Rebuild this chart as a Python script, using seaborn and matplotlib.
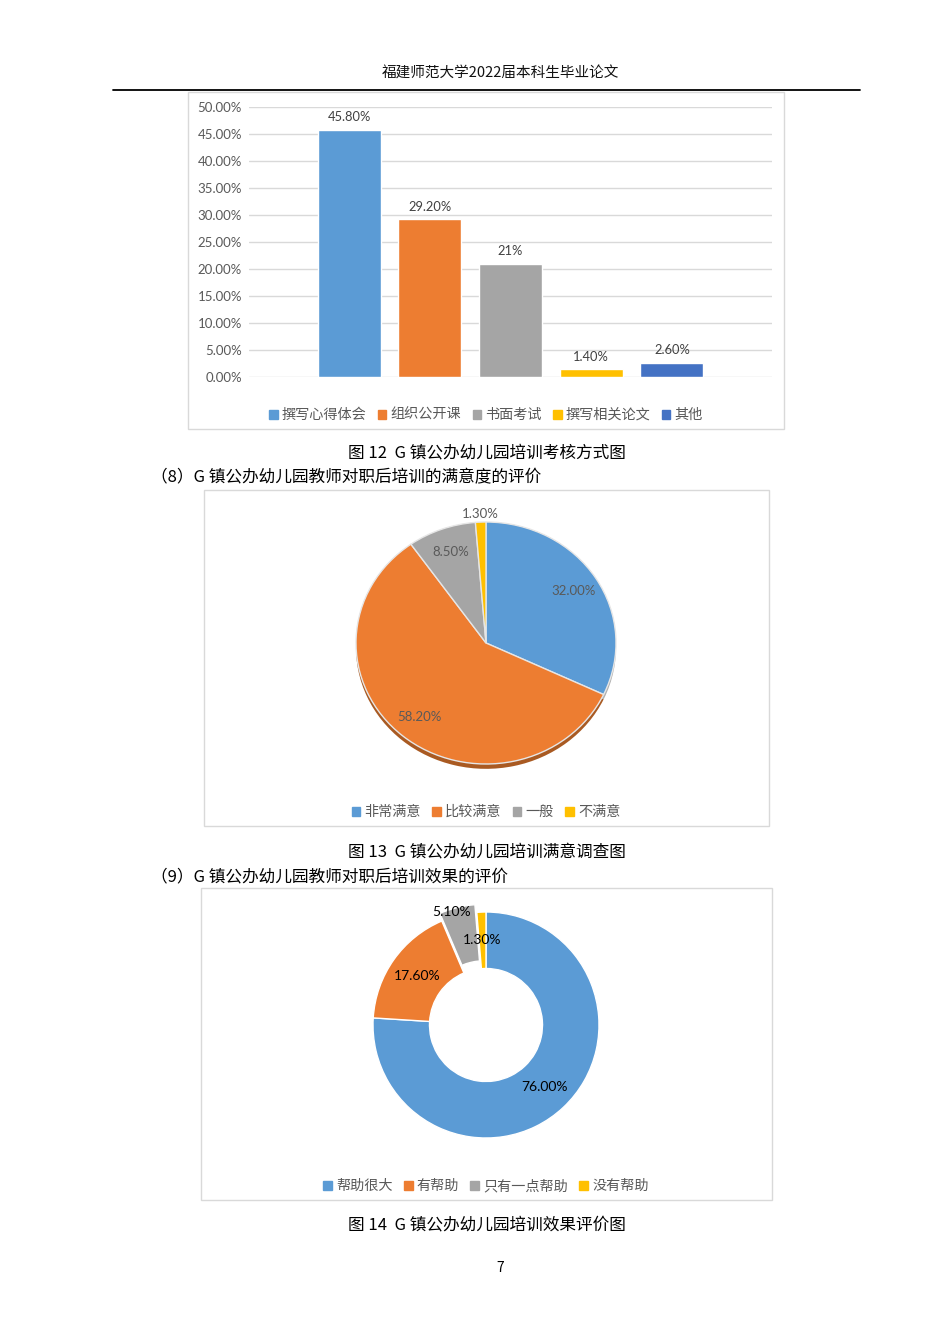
import matplotlib
matplotlib.use("Agg")
import matplotlib.pyplot as plt
import matplotlib.patches as mpatches
import seaborn as sns
import numpy as np
import pandas as pd

# ---------------- data ----------------
header_text = "福建师范大学2022届本科生毕业论文"

bar_categories = ["撰写心得体会", "组织公开课", "书面考试", "撰写相关论文", "其他"]
bar_values = [0.458, 0.292, 0.21, 0.014, 0.026]
bar_labels = ["45.80%", "29.20%", "21%", "1.40%", "2.60%"]
bar_colors = ["#5B9BD5", "#ED7D31", "#A5A5A5", "#FFC000", "#4472C4"]
bar_yticks = [0.0, 0.05, 0.10, 0.15, 0.20, 0.25, 0.30, 0.35, 0.40, 0.45, 0.50]

pie_categories = ["非常满意", "比较满意", "一般", "不满意"]
pie_values = [32.0, 58.2, 8.5, 1.3]
pie_labels = ["32.00%", "58.20%", "8.50%", "1.30%"]
pie_colors = ["#5B9BD5", "#ED7D31", "#A5A5A5", "#FFC000"]

donut_categories = ["帮助很大", "有帮助", "只有一点帮助", "没有帮助"]
donut_values = [76.0, 17.6, 5.1, 1.3]
donut_labels = ["76.00%", "17.60%", "5.10%", "1.30%"]
donut_colors = ["#5B9BD5", "#ED7D31", "#A5A5A5", "#FFC000"]

caption1 = "图 12  G 镇公办幼儿园培训考核方式图"
section8 = "（8）G 镇公办幼儿园教师对职后培训的满意度的评价"
caption2 = "图 13  G 镇公办幼儿园培训满意调查图"
section9 = "（9）G 镇公办幼儿园教师对职后培训效果的评价"
caption3 = "图 14  G 镇公办幼儿园培训效果评价图"
page_number = "7"

# ---------------- setup ----------------
sns.set_theme(style="white")
CJK = ["Noto Sans CJK SC", "DejaVu Sans"]
NUM = ["Lato", "Noto Sans CJK SC", "DejaVu Sans"]
plt.rcParams["font.family"] = NUM

W, H = 950, 1344
fig = plt.figure(figsize=(W / 100, H / 100), dpi=100)
fig.patch.set_facecolor("white")


def fx(px):
    return px / W


def fy(py):
    return 1 - py / H


def rect_px(x0, y0, x1, y1):
    return [fx(x0), fy(y1), (x1 - x0) / W, (y1 - y0) / H]


def box(x0, y0, x1, y1):
    r = mpatches.Rectangle((fx(x0), fy(y1)), (x1 - x0) / W, (y1 - y0) / H,
                           transform=fig.transFigure, fill=False,
                           edgecolor="#D9D9D9", linewidth=1.0)
    fig.add_artist(r)


def legend_at(handles, labels, y, ncol):
    fig.legend(handles, labels, loc="center",
               bbox_to_anchor=(fx(486), fy(y)), ncol=ncol, frameon=False,
               prop={"family": CJK, "size": 10.2}, labelcolor="#595959",
               handlelength=0.6, handleheight=0.6, handletextpad=0.3,
               columnspacing=0.8, borderpad=0)


# ---------------- page texts ----------------
fig.text(fx(500), fy(74), header_text, ha="center", va="center",
         fontsize=10.5, family=CJK, color="#111111")
fig.add_artist(plt.Line2D([fx(113), fx(860)], [fy(90), fy(90)],
                          transform=fig.transFigure, color="black", lw=1.3))

# ---------------- chart 1: bar ----------------
box(188, 92, 784, 429)
ax1 = fig.add_axes(rect_px(249, 107, 772, 377))
df_bar = pd.DataFrame({"cat": bar_categories, "val": bar_values})
sns.barplot(data=df_bar, x="cat", y="val", hue="cat", palette=bar_colors,
            dodge=False, width=0.78, legend=False, ax=ax1, zorder=3,
            saturation=1)
ax1.set_ylim(0, 0.5)
ax1.set_xlim(-1.24, 4 + 1.24)
ax1.set_yticks(bar_yticks)
ax1.set_yticklabels([f"{t*100:.2f}%" for t in bar_yticks])
ax1.tick_params(axis="y", labelsize=9.5, colors="#595959", length=0, pad=5)
ax1.set_xticks([])
ax1.set_xlabel("")
ax1.set_ylabel("")
ax1.grid(axis="y", color="#D9D9D9", linewidth=1.0, zorder=0)
for s in ax1.spines.values():
    s.set_visible(False)
# label bars by matching heights
for p in ax1.patches:
    h = p.get_height()
    if h <= 0:
        continue
    i = int(np.argmin([abs(h - v) for v in bar_values]))
    ax1.text(p.get_x() + p.get_width() / 2, h + 0.012, bar_labels[i],
             ha="center", va="bottom", fontsize=9.3, color="#404040")

handles1 = [mpatches.Rectangle((0, 0), 1, 1, color=c) for c in bar_colors]
legend_at(handles1, bar_categories, 415, 5)

fig.text(fx(487), fy(453), caption1, ha="center", va="center",
         fontsize=12, family=CJK, color="black")
fig.text(fx(151), fy(478), section8, ha="left", va="center",
         fontsize=12, family=CJK, color="black")

# ---------------- chart 2: pie ----------------
box(204, 490, 769, 826)
cx2, cy2, rx2, ry2 = 486, 643, 130, 121
ext = 1.2
ax2 = fig.add_axes(rect_px(cx2 - rx2 * ext, cy2 - ry2 * ext,
                           cx2 + rx2 * ext, cy2 + ry2 * ext))
shadow_colors = ["#B0B0B0", "#A95A22", "#909090", "#C79600"]
ax2.pie(pie_values, colors=shadow_colors, startangle=90, counterclock=False,
        center=(0, -0.04), wedgeprops={"linewidth": 0})
wedges2, _, autotexts2 = ax2.pie(
    pie_values, colors=pie_colors, startangle=90, counterclock=False,
    autopct="%1.2f%%", pctdistance=0.8,
    wedgeprops={"edgecolor": "#E6E6E6", "linewidth": 1.0},
    textprops={"fontsize": 9.5, "color": "#595959"})
for w, t, lab in zip(wedges2, autotexts2, pie_labels):
    t.set_text(lab)
    mid = np.deg2rad((w.theta1 + w.theta2) / 2)
    d = 1.07 if (w.theta2 - w.theta1) < 10 else 0.8
    t.set_position((d * np.cos(mid), d * np.sin(mid)))
ax2.set_aspect("auto")
ax2.set_xlim(-ext, ext)
ax2.set_ylim(-ext, ext)
ax2.axis("off")

handles2 = [mpatches.Rectangle((0, 0), 1, 1, color=c) for c in pie_colors]
legend_at(handles2, pie_categories, 812, 4)

fig.text(fx(487), fy(852), caption2, ha="center", va="center",
         fontsize=12, family=CJK, color="black")
fig.text(fx(151), fy(877), section9, ha="left", va="center",
         fontsize=12, family=CJK, color="black")

# ---------------- chart 3: donut ----------------
box(201, 888, 772, 1200)
cx3, cy3, r3 = 486, 1025, 113
ax3 = fig.add_axes(rect_px(cx3 - r3 * ext, cy3 - r3 * ext,
                           cx3 + r3 * ext, cy3 + r3 * ext))
explode3 = [0, 0, 0.07, 0]
wedges3, _, autotexts3 = ax3.pie(
    donut_values, colors=donut_colors, startangle=90, counterclock=False,
    explode=explode3, autopct="%1.2f%%", pctdistance=0.75,
    wedgeprops={"width": 0.5, "edgecolor": "white", "linewidth": 1.0},
    textprops={"fontsize": 10, "color": "black"})
for w, t, lab, e in zip(wedges3, autotexts3, donut_labels, explode3):
    t.set_text(lab)
    if e > 0:
        mid = np.deg2rad((w.theta1 + w.theta2) / 2)
        d = 1.05
        t.set_position((d * np.cos(mid) - 0.05, d * np.sin(mid) - 0.02))
ax3.set_xlim(-ext, ext)
ax3.set_ylim(-ext, ext)
ax3.set_aspect("auto")
ax3.axis("off")

handles3 = [mpatches.Rectangle((0, 0), 1, 1, color=c) for c in donut_colors]
legend_at(handles3, donut_categories, 1186, 4)

fig.text(fx(487), fy(1225), caption3, ha="center", va="center",
         fontsize=12, family=CJK, color="black")
fig.text(fx(500), fy(1268), page_number, ha="center", va="center",
         fontsize=10, family=CJK, color="black")

fig.savefig("out.png", dpi=100, facecolor="white")
